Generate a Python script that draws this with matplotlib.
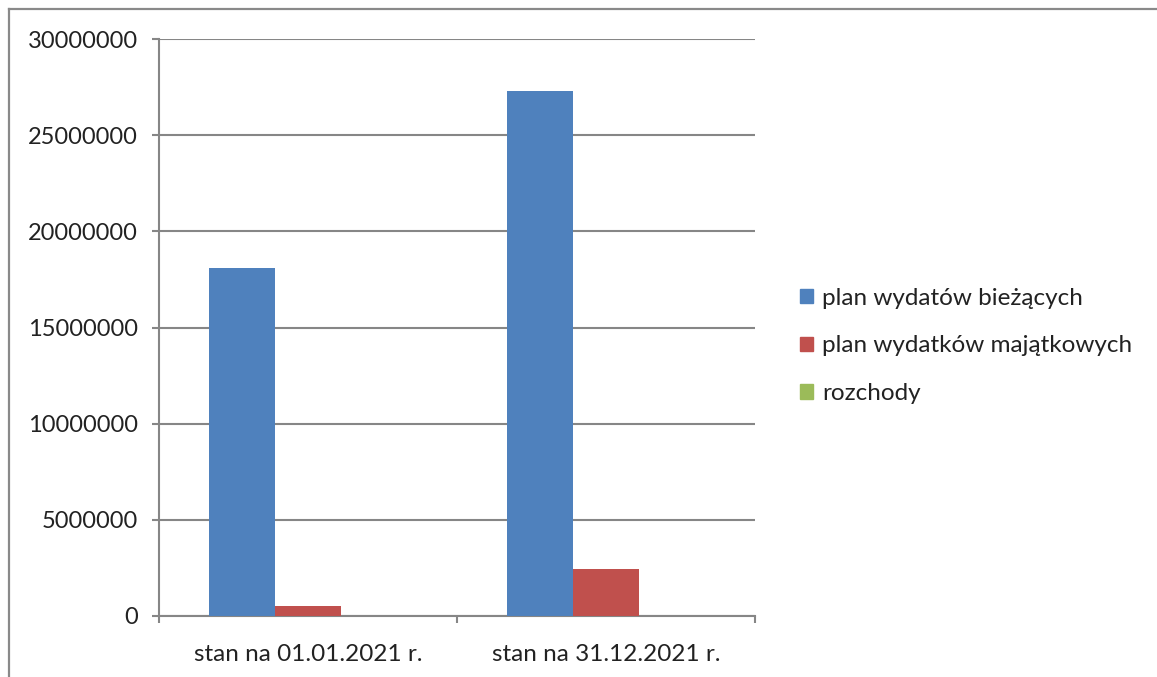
import matplotlib
matplotlib.use("Agg")
import matplotlib.pyplot as plt
from matplotlib.lines import Line2D
import numpy as np

categories = ["stan na 01.01.2021 r.", "stan na 31.12.2021 r."]
series_names = ["plan wydatów bieżących", "plan wydatków majątkowych", "rozchody"]
bieżące = [18080000, 27300000]
majątkowe = [520000, 2450000]
rozchody = [0, 0]
colors = ["#4F81BD", "#C0504D", "#9BBB59"]
yticks = [0, 5000000, 10000000, 15000000, 20000000, 25000000, 30000000]

plt.rcParams['font.family'] = ['Lato', 'DejaVu Sans']

W, H = 1157, 677
fig = plt.figure(figsize=(W / 100, H / 100), dpi=100)
ax = fig.add_axes([159 / W, 1 - 616 / H, (755 - 159) / W, (616 - 39) / H])

x = np.arange(len(categories))
bw = 0.2215
for i, (vals, c) in enumerate(zip([bieżące, majątkowe, rozchody], colors)):
    ax.bar(x + (i - 1) * bw, vals, width=bw, color=c, label=series_names[i], zorder=3)

ax.set_xlim(-0.5, len(categories) - 0.5)
ax.set_ylim(0, 30000000)
ax.set_yticks(yticks)
ax.set_yticklabels([str(v) for v in yticks])
ax.set_xticks(x)
ax.set_xticklabels(categories)
ax.set_xticks([-0.5, 0.5, 1.5], minor=True)

grey = "#868686"
ax.grid(axis='y', color=grey, linewidth=1.5, zorder=0)
for s in ['top', 'right']:
    ax.spines[s].set_visible(False)
for s in ['left', 'bottom']:
    ax.spines[s].set_color(grey)
    ax.spines[s].set_linewidth(1.5)
ax.tick_params(axis='y', which='major', length=5, width=1.5, color=grey, labelsize=17, pad=10, labelcolor="#222222")
ax.tick_params(axis='x', which='major', length=0, labelsize=17.5, pad=20, labelcolor="#222222")
ax.tick_params(axis='x', which='minor', length=5, width=1.5, color=grey)

handles = [plt.Rectangle((0, 0), 1, 1, color=c) for c in colors]
fig.legend(handles, series_names, loc='center left', bbox_to_anchor=(778 / W, 1 - 346 / H),
           frameon=False, fontsize=17.5, handlelength=0.55, handleheight=0.55,
           handletextpad=0.35, labelspacing=1.1, labelcolor="#222222")

# outer chart frame (left and top edges visible)
fig.add_artist(Line2D([9 / W, 9 / W], [0, 1 - 9 / H], color="#898989", linewidth=1.6, transform=fig.transFigure))
fig.add_artist(Line2D([9 / W, 1], [1 - 9 / H, 1 - 9 / H], color="#898989", linewidth=1.6, transform=fig.transFigure))

fig.savefig("out.png", dpi=100)
